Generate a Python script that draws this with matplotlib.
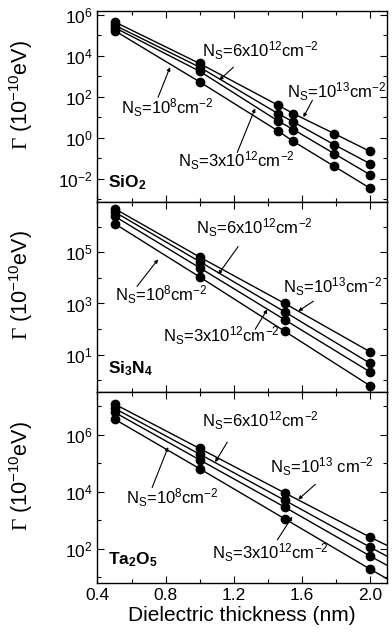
import matplotlib
matplotlib.use("Agg")
import matplotlib.pyplot as plt
import numpy as np
from matplotlib.ticker import (FixedLocator, LogFormatterSciNotation, NullFormatter,
                               MultipleLocator, FormatStrFormatter)

plt.rcParams['font.family'] = ['Liberation Sans', 'DejaVu Sans']
plt.rcParams['mathtext.fontset'] = 'custom'
plt.rcParams['mathtext.rm'] = 'Liberation Sans'
plt.rcParams['mathtext.it'] = 'Liberation Sans:italic'
plt.rcParams['mathtext.bf'] = 'Liberation Sans:bold'
plt.rcParams['mathtext.sf'] = 'Liberation Serif'
plt.rcParams['mathtext.default'] = 'regular'

# log10 of Gamma (10^-10 eV)
# order of series: Ns = 1e13, 6e12, 3e12, 1e8
sio2_x = [0.5, 1.0, 1.46, 1.55, 1.79, 2.0]
sio2_1e13 = [5.67, 3.63, 1.59, 1.18, 0.20, -0.67]
sio2_6e12 = [5.51, 3.45, 1.18, 0.77, -0.34, -1.27]
sio2_3e12 = [5.39, 3.25, 0.82, 0.40, -0.78, -1.81]
sio2_1e8 = [5.24, 2.73, 0.33, -0.18, -1.40, -2.47]

si3n4_x = [0.5, 1.0, 1.5, 2.0]
si3n4_1e13 = [6.72, 4.82, 3.00, 1.11]
si3n4_6e12 = [6.59, 4.64, 2.67, 0.66]
si3n4_3e12 = [6.42, 4.40, 2.36, 0.32]
si3n4_1e8 = [6.13, 4.04, 1.91, -0.22]

ta2o5_x = [0.5, 1.0, 1.5, 2.0]
ta2o5_1e13 = [7.08, 5.52, 3.96, 2.41]
ta2o5_6e12 = [6.93, 5.32, 3.70, 2.06]
ta2o5_3e12 = [6.79, 5.12, 3.46, 1.75]
ta2o5_1e8 = [6.55, 4.81, 3.05, 1.29]
# where the Ta2O5 lines leave the frame at x = 2.1
ta2o5_edge_x = 2.1
ta2o5_edge = [2.12, 1.74, 1.42, 0.95]

panels = [
    dict(name="SiO$_2$", x=sio2_x,
         ys=[sio2_1e13, sio2_6e12, sio2_3e12, sio2_1e8],
         ylim=(-3.13, 6.2), major=[-2, 0, 2, 4, 6], minor=range(-3, 7)),
    dict(name="Si$_3$N$_4$", x=si3n4_x,
         ys=[si3n4_1e13, si3n4_6e12, si3n4_3e12, si3n4_1e8],
         ylim=(-0.48, 6.99), major=[1, 3, 5], minor=range(0, 8)),
    dict(name="Ta$_2$O$_5$", x=ta2o5_x,
         ys=[ta2o5_1e13, ta2o5_6e12, ta2o5_3e12, ta2o5_1e8],
         ylim=(0.8, 7.49), major=[2, 4, 6], minor=range(1, 8)),
]

lab_1e13 = "N$_S$=10$^{13}$cm$^{-2}$"
lab_6e12 = "N$_S$=6x10$^{12}$cm$^{-2}$"
lab_3e12 = "N$_S$=3x10$^{12}$cm$^{-2}$"
lab_1e8 = "N$_S$=10$^8$cm$^{-2}$"

# (text, text pos, arrow tail, arrow tip) in (x, log10 y)
notes = [
    [(lab_6e12, (1.015, 4.28), (1.198, 3.45), (1.115, 2.81)),
     (lab_1e13, (1.515, 2.23), (1.662, 1.83), (1.609, 1.00)),
     (lab_1e8, (0.538, 1.49), (0.756, 1.98), (0.826, 3.45)),
     (lab_3e12, (0.874, -1.11), (1.221, -0.72), (1.326, 1.44))],
    [(lab_6e12, (0.979, 5.98), (1.226, 5.23), (1.109, 4.14)),
     (lab_1e13, (1.491, 3.67), (1.668, 3.09), (1.579, 2.70)),
     (lab_1e8, (0.503, 3.36), (0.632, 3.67), (0.756, 4.73)),
     (lab_3e12, (0.785, 1.72), (1.326, 1.99), (1.397, 2.77))],
    [(lab_6e12, (1.015, 6.48), (1.162, 5.74), (1.091, 5.04)),
     ("N$_S$=10$^{13}$ cm$^{-2}$", (1.415, 4.89), (1.679, 4.26), (1.579, 3.73)),
     (lab_1e8, (0.568, 3.80), (0.721, 4.15), (0.815, 5.57)),
     (lab_3e12, (1.074, 1.86), (1.456, 2.31), (1.544, 3.13))],
]
name_pos = [(0.462, -2.19), (0.462, 0.43), (0.462, 1.61)]

fig, axes = plt.subplots(3, 1, sharex=True, figsize=(3.92, 6.38), dpi=100)
fig.subplots_adjust(left=0.2487, right=0.9872, top=0.9828, bottom=0.0862, hspace=0)

for i, (ax, p) in enumerate(zip(axes, panels)):
    for k, y in enumerate(p["ys"]):
        xs = list(p["x"])
        vals = list(y)
        if i == 2:
            xs = xs + [ta2o5_edge_x]
            vals = vals + [ta2o5_edge[k]]
        ax.plot(xs, 10 ** np.array(vals), color="black", lw=1.0)
        ax.plot(p["x"], 10 ** np.array(y), "o", color="black", ms=6)
    ax.set_yscale("log")
    ax.set_ylim(10 ** p["ylim"][0], 10 ** p["ylim"][1])
    ax.yaxis.set_major_locator(FixedLocator([10.0 ** m for m in p["major"]]))
    ax.yaxis.set_major_formatter(LogFormatterSciNotation())
    ax.yaxis.set_minor_locator(FixedLocator([10.0 ** m for m in p["minor"]]))
    ax.yaxis.set_minor_formatter(NullFormatter())
    ax.set_xlim(0.4, 2.1)
    ax.xaxis.set_major_locator(MultipleLocator(0.4))
    ax.xaxis.set_minor_locator(MultipleLocator(0.2))
    ax.xaxis.set_major_formatter(FormatStrFormatter("%.1f"))
    ax.tick_params(which="both", direction="in", top=True, right=True,
                   labelsize=12.5, width=0.8)
    ax.tick_params(which="major", length=5)
    ax.tick_params(which="minor", length=3)
    for s in ax.spines.values():
        s.set_linewidth(1.0)
    ax.set_ylabel(r"$\mathsf{\Gamma}$ (10$^{-10}$eV)", fontsize=15.5)
    ax.yaxis.set_label_coords(-0.215, 0.56)

    for txt, tp, tail, tip in notes[i]:
        ax.text(tp[0], 10 ** tp[1], txt, fontsize=12, ha="left", va="center")
        ax.annotate("", xy=(tip[0], 10 ** tip[1]), xytext=(tail[0], 10 ** tail[1]),
                    arrowprops=dict(arrowstyle="-|>", color="black", lw=0.8,
                                    mutation_scale=5, shrinkA=0, shrinkB=0))
    ax.text(name_pos[i][0], 10 ** name_pos[i][1], p["name"], fontsize=12.5,
            fontweight="bold", ha="left", va="center")

axes[2].set_xlabel("Dielectric thickness (nm)", fontsize=15, labelpad=2)

fig.savefig("out.png", dpi=100)
